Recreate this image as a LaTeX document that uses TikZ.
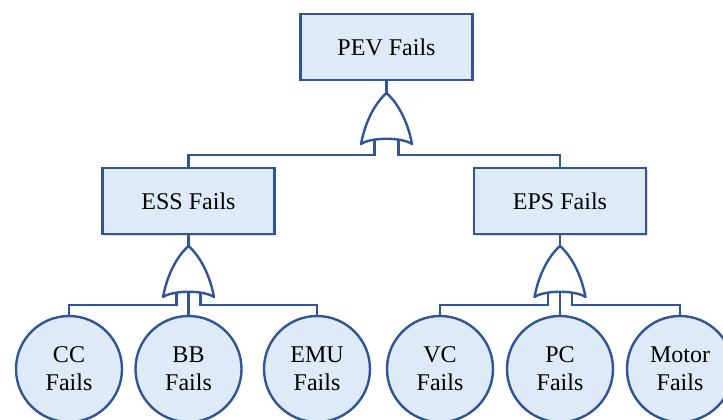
\documentclass[tikz,border=0pt]{standalone}
\usepackage{fontspec}
\setmainfont{Liberation Serif}
\usetikzlibrary{shadows}
\definecolor{edgeblue}{RGB}{47,85,151}
\definecolor{fillblue}{RGB}{222,234,247}
\pgfdeclarelayer{bg}
\pgfsetlayers{bg,main}
\begin{document}
\begin{tikzpicture}[x=1pt,y=-1pt,
  event/.style={draw=edgeblue, fill=fillblue, line width=2.4pt, minimum width=172pt,
    minimum height=66pt, inner sep=0pt, font=\fontsize{24}{28}\selectfont,
    drop shadow={opacity=0.25, shadow xshift=1.5pt, shadow yshift=-1.5pt}},
  basic/.style={circle, draw=edgeblue, fill=fillblue, line width=2.4pt, minimum size=106pt,
    inner sep=0pt, align=center, font=\fontsize{24}{28}\selectfont},
  wire/.style={draw=edgeblue, line width=2.4pt},
  gateline/.style={draw=edgeblue, fill=white, line width=2.4pt, line join=round},
  orgate/.pic={
    \path[gateline] (0,0) .. controls (7,6) and (20,22) .. (25.5,51)
      .. controls (15,44) and (-15,44) .. (-25.5,51)
      .. controls (-20,22) and (-7,6) .. (0,0) -- cycle;
    \coordinate (-top) at (0,0);
    \coordinate (-l) at (-12,44);
    \coordinate (-m) at (0,42);
    \coordinate (-r) at (12,44);
  }]
\useasboundingbox (0,0) rectangle (723,420);
\clip (0,0) rectangle (723,420);

\node[event] (pev) at (386.5,47) {PEV Fails};
\node[event] (ess) at (188.5,201) {ESS Fails};
\node[event] (eps) at (560,201) {EPS Fails};

\node[basic] (cc) at (69,369) {CC\\Fails};
\node[basic] (bb) at (188.5,369) {BB\\Fails};
\node[basic] (emu) at (317,369) {EMU\\Fails};
\node[basic] (vc) at (440,369) {VC\\Fails};
\node[basic] (pc) at (560,369) {PC\\Fails};
\node[basic] (motor) at (680,369) {Motor\\Fails};

\pic (g1) at (386.5,93) {orgate};
\pic (g2) at (188.5,246) {orgate};
\pic (g3) at (560,246) {orgate};

\begin{pgfonlayer}{bg}
\draw[wire] (pev.south) -- (g1-top);
\draw[wire] (g1-l) -- ++(0,18) -| (ess.north);
\draw[wire] (g1-r) -- ++(0,18) -| (eps.north);

\draw[wire] (ess.south) -- (g2-top);
\draw[wire] (g2-l) -- ++(0,15) -| (cc.north);
\draw[wire] (g2-m) -- (bb.north);
\draw[wire] (g2-r) -- ++(0,15) -| (emu.north);

\draw[wire] (eps.south) -- (g3-top);
\draw[wire] (g3-l) -- ++(0,15) -| (vc.north);
\draw[wire] (g3-m) -- (pc.north);
\draw[wire] (g3-r) -- ++(0,15) -| (motor.north);
\end{pgfonlayer}
\end{tikzpicture}
\end{document}
